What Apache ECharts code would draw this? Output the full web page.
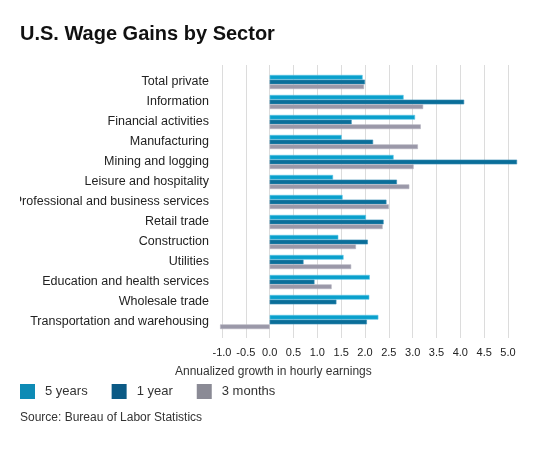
<!DOCTYPE html>
<html>
<head>
<meta charset="utf-8">
<script src="https://cdn.jsdelivr.net/npm/echarts@6/dist/echarts.min.js"></script>
<style>
html,body{margin:0;padding:0;background:#fff;}
#chart{width:557px;height:450px;}
</style>
</head>
<body>
<div id="chart"></div>
<script>
const categories = ["Total private","Information","Financial activities","Manufacturing","Mining and logging","Leisure and hospitality","Professional and business services","Retail trade","Construction","Utilities","Education and health services","Wholesale trade","Transportation and warehousing"];
const fiveYears = [1.95, 2.81, 3.05, 1.51, 2.60, 1.33, 1.53, 2.02, 1.44, 1.55, 2.10, 2.09, 2.28];
const oneYear = [2.00, 4.08, 1.72, 2.17, 5.19, 2.67, 2.45, 2.39, 2.06, 0.71, 0.94, 1.40, 2.04];
const threeMonths = [1.98, 3.22, 3.17, 3.11, 3.02, 2.93, 2.50, 2.37, 1.81, 1.71, 1.30, null, -1.04];
const seriesNames = ["5 years", "1 year", "3 months"];
const xTicks = ["-1.0","-0.5","0.0","0.5","1.0","1.5","2.0","2.5","3.0","3.5","4.0","4.5","5.0"];

const FONT = "Liberation Sans, Arial, sans-serif";
const barColors = ["#0aa0cc", "#0a6e99", "#9a98a8"];
const legendColors = ["#0e8bb5", "#0b5a85", "#8a8a95"];
const borders = ["#5cc4e4", "#3d8fb5", "#b4b2c0"];

const chart = echarts.init(document.getElementById('chart'), null, {renderer: 'canvas'});
const mk = (name, data, i) => ({
  name: name,
  type: 'bar',
  xAxisIndex: 0,
  yAxisIndex: 0,
  data: data,
  barWidth: 4.7,
  barGap: '0%',
  clip: false,
  itemStyle: {color: barColors[i], borderColor: borders[i], borderWidth: 0.6},
  emphasis: {disabled: true}
});
chart.setOption({
  backgroundColor: '#ffffff',
  animation: false,
  textStyle: {fontFamily: FONT},
  title: [
    {text: 'U.S. Wage Gains by Sector', left: 20, top: 24, padding: 0,
     textStyle: {fontFamily: FONT, fontSize: 20, fontWeight: 'bold', color: '#111'}},
    {text: 'Annualized growth in hourly earnings', left: 175, top: 366, padding: 0,
     textStyle: {fontFamily: FONT, fontSize: 12, fontWeight: 'normal', color: '#333'}},
    {text: 'Source: Bureau of Labor Statistics', left: 20, top: 412, padding: 0,
     textStyle: {fontFamily: FONT, fontSize: 12, fontWeight: 'normal', color: '#333'}}
  ],
  legend: {
    left: 20, top: 384, padding: 0,
    itemWidth: 15, itemHeight: 15, itemGap: 24,
    icon: 'rect',
    textStyle: {fontFamily: FONT, fontSize: 13, color: '#333', padding: [0,0,0,5]},
    data: seriesNames.map((n, i) => ({name: n, itemStyle: {color: legendColors[i], borderWidth: 0}}))
  },
  grid: [
    {left: 222, right: 49, top: 72, height: 260, containLabel: false},
    {left: 222, right: 49, top: 65, height: 273, containLabel: false}
  ],
  xAxis: [
    {gridIndex: 0, type: 'value', min: -1, max: 5, interval: 0.5, show: false},
    {gridIndex: 1, type: 'value', min: -1, max: 5, interval: 0.5,
     axisLine: {show: false}, axisTick: {show: false},
     splitLine: {show: true, lineStyle: {color: '#dcdcdc', width: 1}},
     axisLabel: {margin: 9, fontFamily: FONT, fontSize: 11, color: '#222',
       formatter: v => xTicks[Math.round((v + 1) / 0.5)]}}
  ],
  yAxis: [
    {gridIndex: 0, type: 'category', data: categories, inverse: true,
     axisLine: {show: false}, axisTick: {show: false}, splitLine: {show: false},
     axisLabel: {margin: 13, fontFamily: FONT, fontSize: 12.5, color: '#222'}},
    {gridIndex: 1, type: 'value', show: false}
  ],
  series: [
    mk(seriesNames[0], fiveYears, 0),
    mk(seriesNames[1], oneYear, 1),
    mk(seriesNames[2], threeMonths, 2)
  ],
  graphic: [
    {type: 'rect', left: 0, top: 190, shape: {width: 20, height: 20}, style: {fill: '#ffffff'}, z: 100}
  ]
});
</script>
</body>
</html>
